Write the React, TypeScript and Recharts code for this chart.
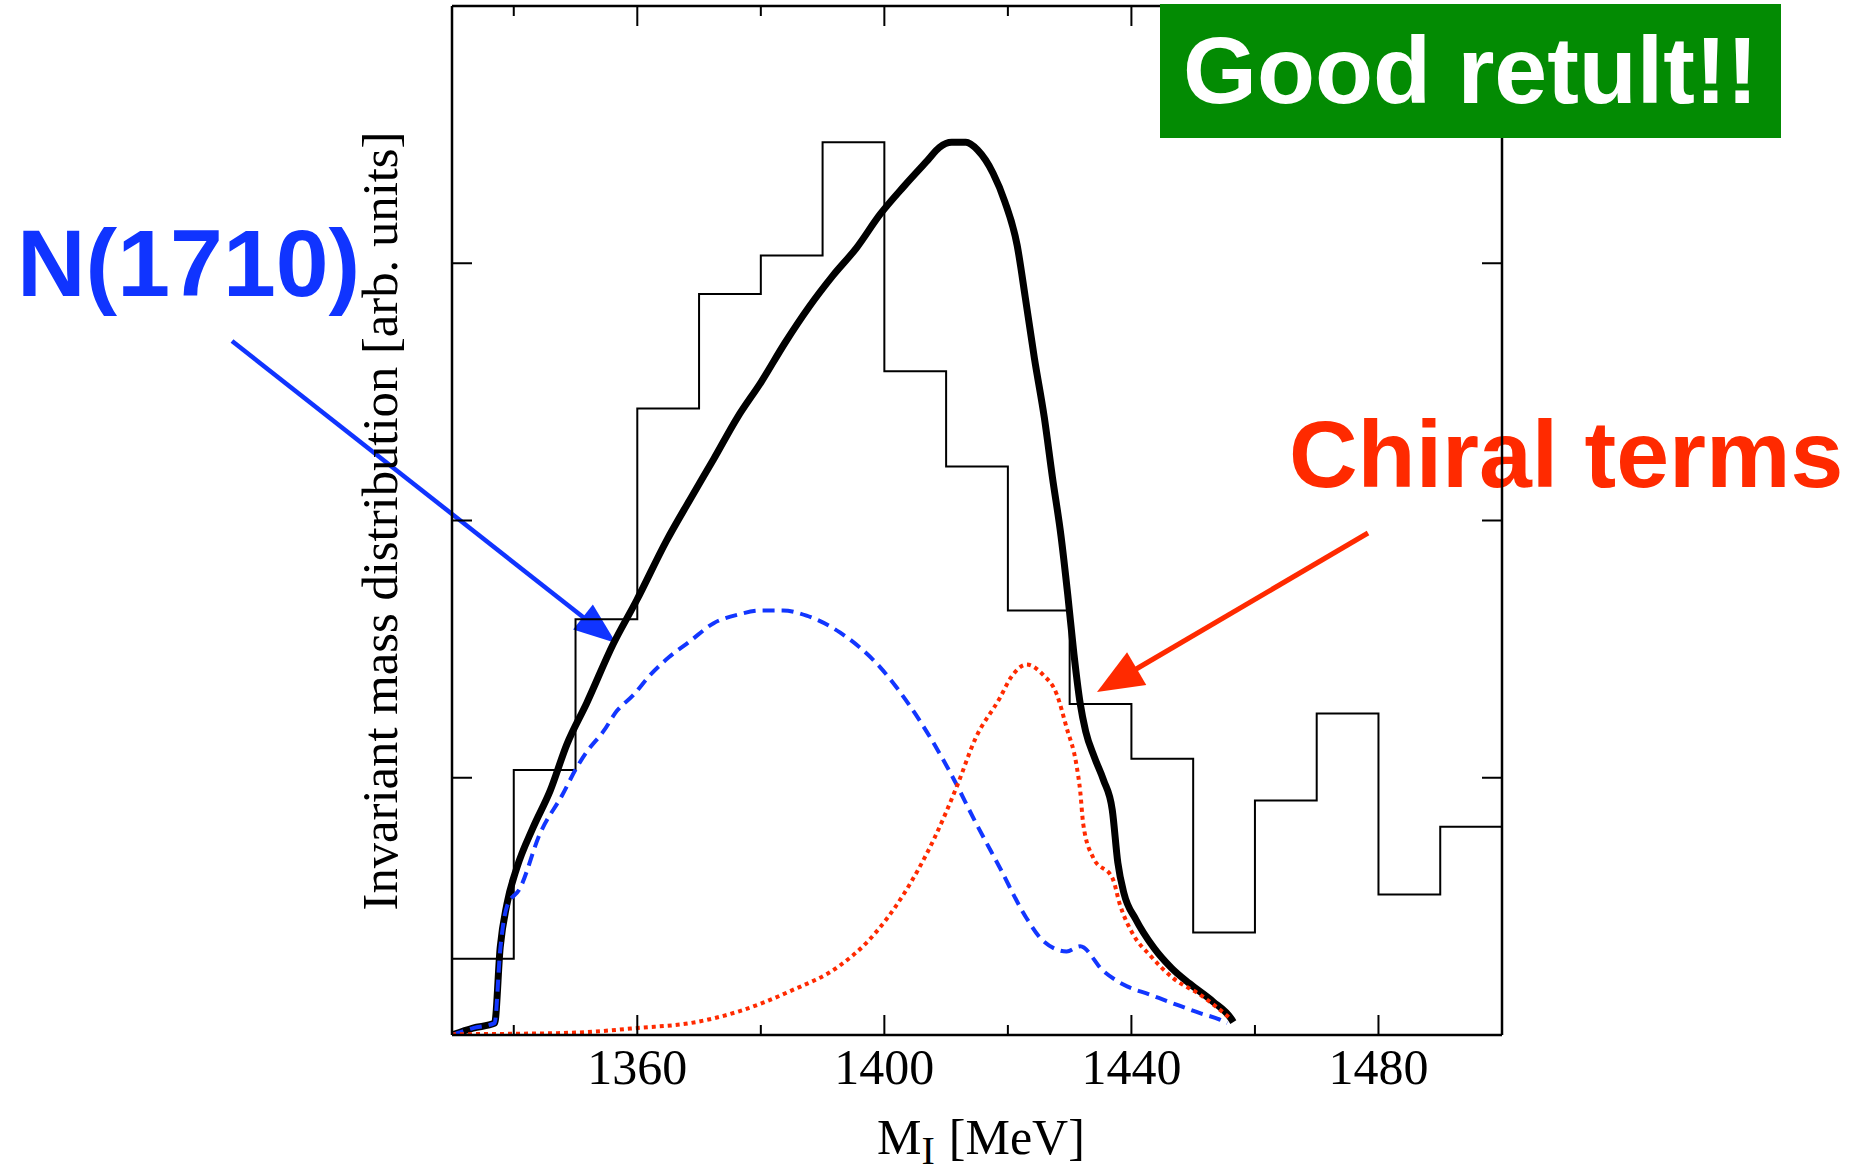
import React from 'react';
import { ComposedChart, Line, XAxis, YAxis } from 'recharts';

// ---------- data ----------
const binEdges = [1330, 1340, 1350, 1360, 1370, 1380, 1390, 1400, 1410, 1420, 1430, 1440, 1450, 1460, 1470, 1480, 1490];
const binCounts = [0.296, 1.03, 1.616, 2.435, 2.88, 3.03, 3.47, 2.58, 2.21, 1.65, 1.287, 1.074, 0.398, 0.912, 1.25, 0.546, 0.81];
const histEnd = 1500;

const totalX = [1330, 1333.4, 1336.9, 1337.8, 1338.9, 1340.5, 1343.1, 1345.9, 1348.6, 1351.8, 1356.1, 1359.9, 1364.7, 1368.5, 1372.4, 1376.2, 1380.1, 1383.9, 1387.8, 1391.6, 1395.5, 1399.3, 1403.2, 1407.0, 1408.9, 1410.9, 1413.2, 1415.1, 1417.6, 1419.5, 1421.5, 1422.8, 1424.3, 1425.9, 1427.2, 1428.6, 1429.7, 1430.7, 1431.7, 1432.6, 1434.0, 1435.5, 1436.9, 1437.8, 1438.8, 1440.7, 1443.6, 1446.5, 1449.4, 1453.2, 1456.1, 1456.5];
const totalY = [0.0, 0.027, 0.046, 0.34, 0.51, 0.65, 0.805, 0.95, 1.13, 1.29, 1.52, 1.69, 1.92, 2.08, 2.24, 2.40, 2.54, 2.69, 2.83, 2.95, 3.06, 3.19, 3.30, 3.40, 3.45, 3.47, 3.47, 3.44, 3.35, 3.24, 3.07, 2.87, 2.63, 2.40, 2.17, 1.94, 1.71, 1.48, 1.29, 1.18, 1.08, 0.99, 0.875, 0.67, 0.55, 0.45, 0.34, 0.26, 0.20, 0.13, 0.065, 0.05];

const n1710X = [1330, 1333.4, 1336.9, 1337.8, 1338.9, 1341.0, 1344.2, 1347.9, 1350.2, 1351.8, 1354.5, 1356.7, 1359.3, 1362.1, 1365.2, 1368.5, 1372.3, 1376.6, 1379.9, 1383.6, 1387.4, 1392.8, 1399.3, 1405.1, 1410.9, 1414.7, 1418.7, 1423.0, 1425.7, 1429.5, 1431.7, 1435.4, 1438.7, 1443.0, 1447.3, 1451.1, 1454.3, 1455.5];
const n1710Y = [0.0, 0.027, 0.046, 0.33, 0.50, 0.57, 0.78, 0.935, 1.04, 1.10, 1.18, 1.26, 1.32, 1.40, 1.47, 1.53, 1.60, 1.636, 1.65, 1.65, 1.63, 1.565, 1.43, 1.245, 1.01, 0.83, 0.65, 0.455, 0.366, 0.325, 0.345, 0.25, 0.196, 0.157, 0.118, 0.085, 0.06, 0.046];

const chiralX = [1330, 1341, 1350.7, 1360.4, 1368.5, 1376.6, 1384.7, 1392.8, 1397.4, 1403.2, 1408.0, 1411.8, 1414.7, 1418.7, 1420.5, 1423.0, 1425.7, 1427.9, 1429.5, 1431.1, 1431.7, 1432.2, 1433.8, 1437.0, 1438.1, 1440.3, 1443.0, 1446.8, 1451.1, 1456.0];
const chiralY = [0.003, 0.005, 0.01, 0.028, 0.046, 0.093, 0.17, 0.27, 0.366, 0.55, 0.76, 0.97, 1.15, 1.31, 1.39, 1.44, 1.40, 1.325, 1.195, 1.05, 0.95, 0.82, 0.69, 0.606, 0.51, 0.39, 0.31, 0.22, 0.157, 0.065];

const xTicks = [1340, 1360, 1380, 1400, 1420, 1440, 1460, 1480];
const xLabeledTicks = [1360, 1400, 1440, 1480];
const yTicks = [1, 2, 3];
const xDomain = [1330, 1500];
const yDomain = [0, 4];

const xTitleMain = 'M';
const xTitleSub = 'I';
const xTitleUnit = '[MeV]';
const yTitle = 'Invariant mass distribution [arb. units]';
const n1710Label = 'N(1710)';
const chiralLabel = 'Chiral terms';
const goodLabel = 'Good retult!!';

// ---------- derived tables ----------
const histData = binEdges
  .map((x, i) => ({ x, y: binCounts[i] }))
  .concat([{ x: histEnd, y: binCounts[binCounts.length - 1] }]);
const totalData = totalX.map((x, i) => ({ x, y: totalY[i] }));
const n1710Data = n1710X.map((x, i) => ({ x, y: n1710Y[i] }));
const chiralData = chiralX.map((x, i) => ({ x, y: chiralY[i] }));

const SERIF = '"Liberation Serif", "Times New Roman", Times, serif';
const SANS = '"Liberation Sans", Arial, Helvetica, sans-serif';

const isLabeled = (v: number) => xLabeledTicks.indexOf(v) >= 0;

const BottomTick = (props: any) => {
  const { x, y, payload } = props;
  const v = payload.value;
  const major = isLabeled(v);
  return (
    <g>
      <line x1={x} x2={x} y1={y} y2={y - (major ? 20 : 10)} stroke="#000" strokeWidth={2} />
      {major && (
        <text x={x} y={y + 49} textAnchor="middle" fontFamily={SERIF} fontSize={50} fill="#000">
          {v}
        </text>
      )}
    </g>
  );
};

const TopTick = (props: any) => {
  const { x, y, payload } = props;
  const major = isLabeled(payload.value);
  return <line x1={x} x2={x} y1={y} y2={y + (major ? 20 : 10)} stroke="#000" strokeWidth={2} />;
};

const LeftTick = (props: any) => {
  const { x, y } = props;
  return <line x1={x} x2={x + 20} y1={y} y2={y} stroke="#000" strokeWidth={2} />;
};

const RightTick = (props: any) => {
  const { x, y } = props;
  return <line x1={x} x2={x - 20} y1={y} y2={y} stroke="#000" strokeWidth={2} />;
};

const Arrow = ({ x1, y1, x2, y2, color, width, headLen, headHalf }: any) => {
  const dx = x2 - x1;
  const dy = y2 - y1;
  const len = Math.sqrt(dx * dx + dy * dy);
  const ux = dx / len;
  const uy = dy / len;
  const bx = x2 - ux * headLen;
  const by = y2 - uy * headLen;
  const nx = -uy;
  const ny = ux;
  const pts = `${x2},${y2} ${bx + nx * headHalf},${by + ny * headHalf} ${bx - nx * headHalf},${by - ny * headHalf}`;
  return (
    <g>
      <line x1={x1} y1={y1} x2={bx + ux * 2} y2={by + uy * 2} stroke={color} strokeWidth={width} />
      <polygon points={pts} fill={color} />
    </g>
  );
};

const axisLine = { stroke: '#000', strokeWidth: 2.5 };

export default function App() {
  return (
    <div style={{ position: 'absolute', left: 0, top: 0, width: 1865, height: 1172, background: '#fff' }}>
      {/* annotations beneath the chart */}
      <svg width={1865} height={1172} style={{ position: 'absolute', left: 0, top: 0 }}>
        <text x={17} y={296} fontFamily={SANS} fontWeight="bold" fontSize={95} fill="#1034ff">
          {n1710Label}
        </text>
        <text x={1289} y={487} fontFamily={SANS} fontWeight="bold" fontSize={95} fill="#ff2a00">
          {chiralLabel}
        </text>
        <Arrow x1={232} y1={341} x2={616} y2={643} color="#1034ff" width={4.5} headLen={42} headHalf={16} />
        <Arrow x1={1368} y1={533} x2={1097} y2={692} color="#ff2a00" width={5} headLen={46} headHalf={19} />
        <text
          x={397}
          y={521}
          transform="rotate(-90 397 521)"
          textAnchor="middle"
          fontFamily={SERIF}
          fontSize={50}
          textLength={779}
          lengthAdjust="spacingAndGlyphs"
          fill="#000"
        >
          {yTitle}
        </text>
        <text x={877} y={1154} fontFamily={SERIF} fontSize={50} fill="#000">
          <tspan>{xTitleMain}</tspan>
          <tspan fontSize={40} dy={10}>{xTitleSub}</tspan>
          <tspan dx={14} dy={-10}>{xTitleUnit}</tspan>
        </text>
      </svg>

      <div style={{ position: 'absolute', left: 0, top: 0 }}>
        <ComposedChart width={1865} height={1172} margin={{ top: 5, right: 362, bottom: 136, left: 451 }}>
          <XAxis
            xAxisId={0}
            dataKey="x"
            type="number"
            domain={xDomain}
            allowDataOverflow
            ticks={xTicks}
            interval={0}
            orientation="bottom"
            height={1}
            tickSize={0}
            tickMargin={0}
            tickLine={false}
            axisLine={axisLine}
            tick={<BottomTick />}
          />
          <XAxis
            xAxisId="top"
            dataKey="x"
            type="number"
            domain={xDomain}
            allowDataOverflow
            ticks={xTicks}
            interval={0}
            orientation="top"
            height={1}
            tickSize={0}
            tickMargin={0}
            tickLine={false}
            axisLine={axisLine}
            tick={<TopTick />}
          />
          <YAxis
            yAxisId={0}
            type="number"
            domain={yDomain}
            allowDataOverflow
            ticks={yTicks}
            interval={0}
            orientation="left"
            width={1}
            tickSize={0}
            tickMargin={0}
            tickLine={false}
            axisLine={axisLine}
            tick={<LeftTick />}
          />
          <YAxis
            yAxisId="right"
            type="number"
            domain={yDomain}
            allowDataOverflow
            ticks={yTicks}
            interval={0}
            orientation="right"
            width={1}
            tickSize={0}
            tickMargin={0}
            tickLine={false}
            axisLine={axisLine}
            tick={<RightTick />}
          />
          <Line
            data={histData}
            dataKey="y"
            type="stepAfter"
            stroke="#000"
            strokeWidth={2}
            dot={false}
            activeDot={false}
            isAnimationActive={false}
          />
          <Line
            data={totalData}
            dataKey="y"
            type="monotone"
            stroke="#000"
            strokeWidth={7}
            dot={false}
            activeDot={false}
            isAnimationActive={false}
          />
          <Line
            data={n1710Data}
            dataKey="y"
            type="monotone"
            stroke="#1236ff"
            strokeWidth={4}
            strokeDasharray="12 7"
            dot={false}
            activeDot={false}
            isAnimationActive={false}
          />
          <Line
            data={chiralData}
            dataKey="y"
            type="monotone"
            stroke="#ff2a00"
            strokeWidth={4}
            strokeDasharray="4 4"
            dot={false}
            activeDot={false}
            isAnimationActive={false}
          />
        </ComposedChart>
      </div>

      {/* box drawn above the frame */}
      <svg width={1865} height={1172} style={{ position: 'absolute', left: 0, top: 0, pointerEvents: 'none' }}>
        <rect x={1160} y={4} width={621} height={134} fill="#038b03" />
        <text x={1183} y={103} fontFamily={SANS} fontWeight="bold" fontSize={95} fill="#fff">
          {goodLabel}
        </text>
      </svg>
    </div>
  );
}
